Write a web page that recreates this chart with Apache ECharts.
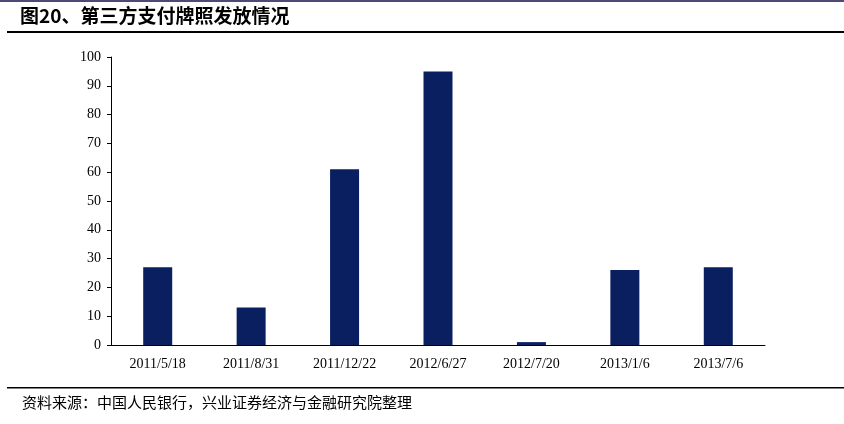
<!DOCTYPE html><html><head><meta charset="utf-8"><script src="https://cdn.jsdelivr.net/npm/echarts@6/dist/echarts.min.js"></script>
<style>body{margin:0}#c{width:844px;height:424px}</style></head><body><div id="c"></div><script>
const categories=['2011/5/18','2011/8/31','2011/12/22','2012/6/27','2012/7/20','2013/1/6','2013/7/6'];
const values=[27,13,61,95,1,26,27];
const ch=echarts.init(document.getElementById('c'));
ch.setOption({animation:false,
graphic:[
{type:'rect',shape:{x:0,y:0,width:844,height:2},style:{fill:'#4b4a7a'}},
{type:'text',left:20,top:6,style:{text:'图20、第三方支付牌照发放情况',font:'bold 19px "Noto Sans CJK SC"',fill:'#000'}},
{type:'rect',shape:{x:7,y:31,width:837,height:2},style:{fill:'#000'}},
{type:'rect',shape:{x:7,y:387,width:837,height:1.5},style:{fill:'#000'}},
{type:'text',left:22,top:395,style:{text:'资料来源：中国人民银行，兴业证券经济与金融研究院整理',font:'15px "Noto Sans CJK SC"',fill:'#000'}}
],
grid:{left:111,right:79,top:57,bottom:79},
xAxis:{type:'category',data:categories,axisLine:{lineStyle:{color:'#000'}},axisTick:{show:false},axisLabel:{color:'#000',fontFamily:'Liberation Serif',fontSize:14,margin:12}},
yAxis:{type:'value',min:0,max:100,interval:10,splitLine:{show:false},axisLine:{show:true,lineStyle:{color:'#000'}},axisTick:{show:true,length:4,lineStyle:{color:'#000'}},axisLabel:{color:'#000',fontFamily:'Liberation Serif',fontSize:14,margin:10}},
series:[{type:'bar',data:values,barWidth:29,itemStyle:{color:'#0a1f5f'}}]});
</script></body></html>
